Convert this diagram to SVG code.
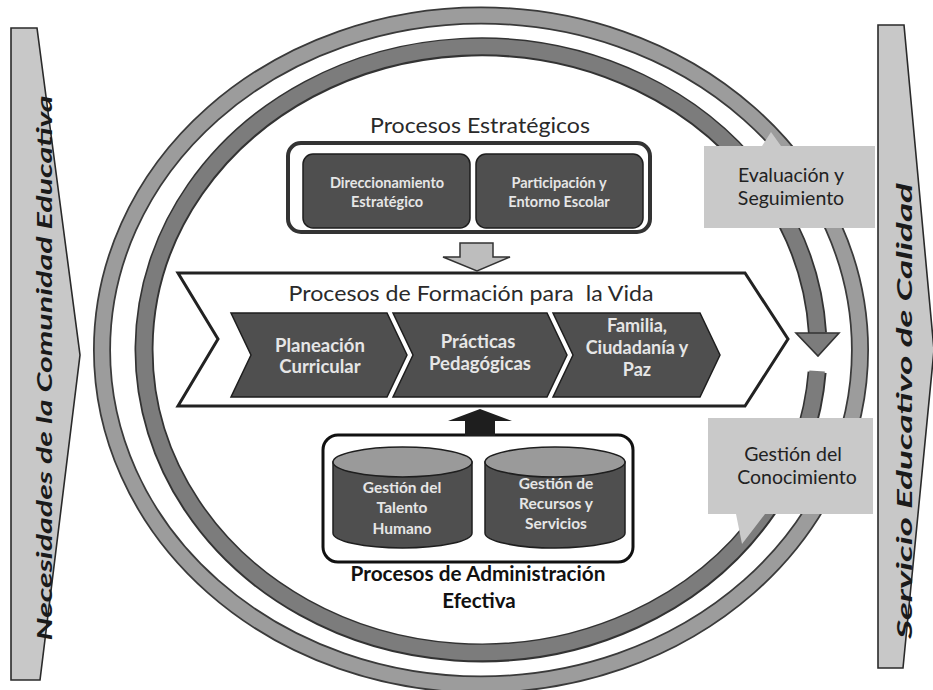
<svg xmlns="http://www.w3.org/2000/svg" width="933" height="690" viewBox="0 0 933 690">
<style>
  text { font-family: Lato, "Open Sans", "Liberation Sans", sans-serif; }
  .side { fill: #c8c8c8; stroke: #2a2a2a; stroke-width: 1.6; }
  .sidetxt { font-size: 20px; font-style: italic; font-weight: 700; fill: #1a1a1a; text-anchor: middle; }
  .title { font-size: 22px; fill: #2a2a2a; text-anchor: middle; }
  .titleb { font-size: 20.5px; font-weight: 700; fill: #111; text-anchor: middle; }
  .dark { fill: #4f4f4f; stroke: #1e1e1e; stroke-width: 1.5; }
  .darktxt { font-weight: 700; fill: #e6e6e6; text-anchor: middle; }
  .callout { fill: #c9c9c9; }
  .calltxt { font-size: 19.5px; fill: #222; text-anchor: middle; }
</style>

<!-- side arrows -->
<g id="entrada">
  <polygon class="side" points="11,28 37,28 80,355 40,680 11,680"/>
  <text class="sidetxt" transform="translate(52,368) rotate(-90)" textLength="545" lengthAdjust="spacingAndGlyphs">Necesidades de la Comunidad Educativa</text>
</g>
<g id="salida">
  <polygon class="side" points="878,25 904,25 934,350 903,668 878,668"/>
  <text class="sidetxt" transform="translate(912,411) rotate(-90)" textLength="456" lengthAdjust="spacingAndGlyphs">Servicio Educativo de Calidad</text>
</g>

<!-- rings -->
<g id="anillo-exterior">
  <ellipse cx="481" cy="350" rx="379" ry="334.5" fill="none" stroke="#3a3a3a" stroke-width="18"/>
  <ellipse cx="481" cy="350" rx="379" ry="334.5" fill="none" stroke="#9c9c9c" stroke-width="14.5"/>
</g>
<g id="anillo-interior">
  <path d="M817.1,372.2 A337,303 0 1 1 817.5,333.1" fill="none" stroke="#333" stroke-width="19"/>
  <path d="M817.1,371 A337,303 0 1 1 817.5,334" fill="none" stroke="#7c7c7c" stroke-width="15.5"/>
  <polygon points="796,333 839,333 818,356" fill="#7c7c7c" stroke="#333" stroke-width="1.6"/>
</g>

<!-- callout boxes -->
<g id="evaluacion">
  <polygon class="callout" points="704,146 762,146 771,132 781,146 875,146 875,228 704,228"/>
  <text class="calltxt" x="791" y="182">Evaluación y</text>
  <text class="calltxt" x="791" y="205">Seguimiento</text>
</g>
<g id="gestion-conocimiento">
  <polygon class="callout" points="708,418 873,418 873,514 765,514 742,544 736,514 708,514"/>
  <text class="calltxt" x="793" y="461">Gestión del</text>
  <text class="calltxt" x="797" y="484">Conocimiento</text>
</g>

<!-- Procesos Estratégicos -->
<g id="estrategicos">
  <text class="title" x="480" y="133" textLength="220" lengthAdjust="spacingAndGlyphs">Procesos Estratégicos</text>
  <rect x="288" y="143" width="362" height="89" rx="13" fill="#fff" stroke="#333" stroke-width="4"/>
  <g id="direccionamiento">
    <rect class="dark" x="303" y="154" width="167" height="74" rx="10"/>
    <text class="darktxt" x="387" y="188" font-size="14.5">Direccionamiento</text>
    <text class="darktxt" x="387" y="207" font-size="14.5">Estratégico</text>
  </g>
  <g id="participacion">
    <rect class="dark" x="476" y="154" width="167" height="74" rx="10"/>
    <text class="darktxt" x="559" y="188" font-size="14.5">Participación y</text>
    <text class="darktxt" x="559" y="207" font-size="14.5">Entorno Escolar</text>
  </g>
</g>

<!-- Procesos de Formación para la Vida -->
<g id="formacion">
  <polygon points="178,273 745,273 788,339 745,406 178,406 218,339" fill="#fff" stroke="#222" stroke-width="3"/>
  <text class="title" x="471" y="301" font-size="23" style="white-space:pre" xml:space="preserve" textLength="365" lengthAdjust="spacingAndGlyphs">Procesos de Formación para  la Vida</text>
  <g id="planeacion">
    <polygon class="dark" points="231,313 387,313 407,355 387,397 231,397 251,355"/>
    <text class="darktxt" x="320" y="352" font-size="18.5">Planeación</text>
    <text class="darktxt" x="320" y="373" font-size="18.5">Curricular</text>
  </g>
  <g id="practicas">
    <polygon class="dark" points="393,313 547,313 567,355 547,397 393,397 413,355"/>
    <text class="darktxt" x="478" y="348" font-size="18.5">Prácticas</text>
    <text class="darktxt" x="480" y="370" font-size="18.5">Pedagógicas</text>
  </g>
  <g id="familia">
    <polygon class="dark" points="553,313 700,313 720,355 700,397 553,397 573,355"/>
    <text class="darktxt" x="637" y="332" font-size="18">Familia,</text>
    <text class="darktxt" x="637" y="354" font-size="18">Ciudadanía y</text>
    <text class="darktxt" x="637" y="376" font-size="18">Paz</text>
  </g>
</g>

<!-- Procesos de Administración Efectiva -->
<g id="administracion">
  <rect x="323" y="435" width="310" height="127" rx="15" fill="#fff" stroke="#111" stroke-width="3"/>
  <g id="talento">
    <path class="dark" d="M333,462 V533 A69.5,15 0 0 0 472,533 V462 Z"/>
    <ellipse cx="402.5" cy="462" rx="69.5" ry="15" fill="#9a9a9a" stroke="#1e1e1e" stroke-width="1.5"/>
    <text class="darktxt" x="402" y="493" font-size="15.5">Gestión del</text>
    <text class="darktxt" x="402" y="513" font-size="15.5">Talento</text>
    <text class="darktxt" x="402" y="534" font-size="15.5">Humano</text>
  </g>
  <g id="recursos">
    <path class="dark" d="M485,462 V533 A70,15 0 0 0 625,533 V462 Z"/>
    <ellipse cx="555" cy="462" rx="70" ry="15" fill="#9a9a9a" stroke="#1e1e1e" stroke-width="1.5"/>
    <text class="darktxt" x="556" y="489" font-size="15.5">Gestión de</text>
    <text class="darktxt" x="556" y="509" font-size="15.5">Recursos y</text>
    <text class="darktxt" x="556" y="529" font-size="15.5">Servicios</text>
  </g>
  <text class="titleb" x="478" y="581" textLength="255" lengthAdjust="spacingAndGlyphs">Procesos de Administración</text>
  <text class="titleb" x="479" y="608">Efectiva</text>
</g>

<!-- connectors -->
<g id="conectores">
  <polygon points="460,243 493,243 493,257 510,257 477,271 443,257 460,257" fill="#bdbdbd" stroke="#333" stroke-width="1.5"/>
  <polygon points="480,409 512,421 495,421 495,436 465,436 465,421 448,421" fill="#1e1e1e"/>
</g>
</svg>
